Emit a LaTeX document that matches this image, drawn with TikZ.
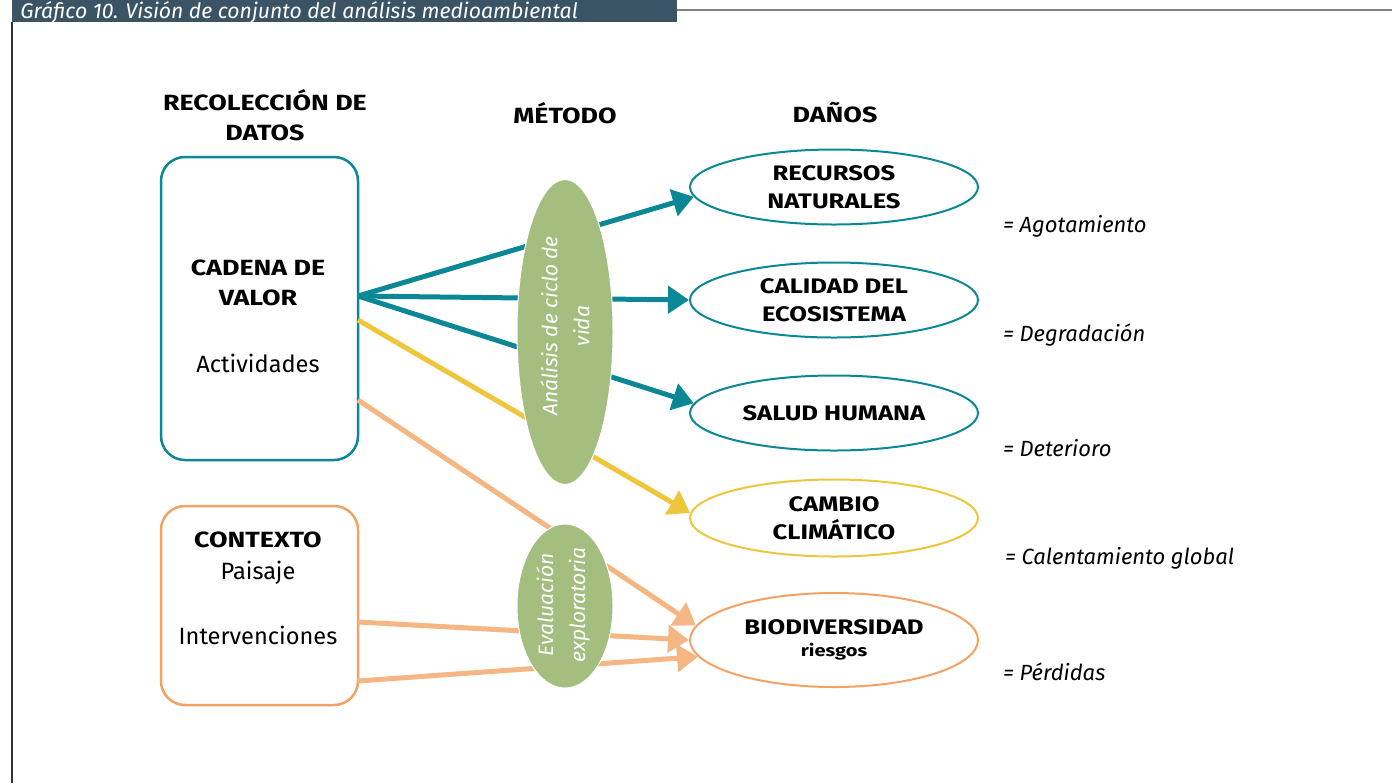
\documentclass[tikz,border=0pt]{standalone}
\usepackage{fontspec}
\setmainfont{Fira Sans}[BoldFeatures={FakeStretch=1.22}]
\usetikzlibrary{shapes.geometric,arrows.meta}

\definecolor{barra}{HTML}{3A5466}
\definecolor{azulv}{HTML}{0B8796}
\definecolor{amarillo}{HTML}{EEC63D}
\definecolor{naranja}{HTML}{F2A264}
\definecolor{melocoton}{HTML}{F5B683}
\definecolor{verdem}{HTML}{A3BE7E}

\newcommand{\cabfont}{\fontsize{11}{15}\selectfont\bfseries}
\newcommand{\txtfont}{\fontsize{11.8}{15}\selectfont}

\begin{document}
\begin{tikzpicture}[x=0.5pt,y=-0.5pt,
    caja/.style={draw,rounded corners=12pt,line width=1.25pt,minimum width=98.5pt,inner sep=0pt},
    dano/.style={ellipse,draw,line width=1pt,minimum width=144pt,minimum height=37.5pt,inner sep=0pt,align=center,font=\fontsize{10.5}{14}\selectfont\bfseries},
    metodo/.style={ellipse,fill=verdem,draw=white,line width=0.5pt,minimum width=48pt,inner sep=0pt},
    metlabel/.style={rotate=90,align=center,text=white,font=\fontsize{10.5}{16}\selectfont\itshape},
    efecto/.style={anchor=west,font=\fontsize{11}{13}\selectfont\itshape},
    flecha/.style={line width=2.5pt,-{Triangle[length=10.5pt,width=13.5pt]}}]
  \useasboundingbox (0,0) rectangle (1392,783);

  % marco
  \fill[barra] (12,0) rectangle (677,22);
  \node[anchor=base west,text=white,font=\fontsize{10.6}{12}\selectfont\itshape,inner sep=0pt] (titulo) at (20,18) {Gráfico 10. Visión de conjunto del análisis medioambiental};
  \draw[gray,line width=0.75pt] (677,10) -- (1392,10);
  \draw[black!80,line width=0.6pt] (12,22) -- (12,783);

  % cabeceras
  \node[align=center,font=\cabfont] (hdatos) at (265,115) {RECOLECCIÓN DE\\DATOS};
  \node[font=\cabfont] (hmetodo) at (565,113) {MÉTODO};
  \node[font=\cabfont] (hdanos) at (835,113) {DAÑOS};

  % recoleccion de datos
  \node[caja,draw=azulv,minimum height=151.5pt] (cadena) at (259.5,308.5) {};
  \node[align=center,font=\cabfont] (cadtxt) at (258,283) {CADENA DE\\VALOR};
  \node[font=\txtfont] (activ) at (258,363) {Actividades};

  \node[caja,draw=naranja,minimum height=99.5pt] (contexto) at (259.5,605.5) {};
  \node[font=\cabfont] (ctxtxt) at (258,540) {CONTEXTO};
  \node[font=\txtfont] (paisaje) at (258,573) {Paisaje};
  \node[font=\txtfont] (interv) at (258,635) {Intervenciones};

  % danos
  \node[dano,draw=azulv] (recursos) at (834,187) {RECURSOS\\NATURALES};
  \node[dano,draw=azulv] (calidad) at (834,300) {CALIDAD DEL\\ECOSISTEMA};
  \node[dano,draw=azulv] (salud) at (834,413) {SALUD HUMANA};
  \node[dano,draw=amarillo,minimum height=38.5pt] (clima) at (834,518) {CAMBIO\\CLIMÁTICO};
  \node[dano,draw=naranja,minimum height=47pt] (biodiv) at (834,640) {BIODIVERSIDAD\\[-3pt]{\fontsize{8.2}{9}\selectfont riesgos}};

  \node[efecto] (e1) at (996,226) {= Agotamiento};
  \node[efecto] (e2) at (996,335) {= Degradación};
  \node[efecto] (e3) at (996,448) {= Deterioro};
  \node[efecto] (e4) at (998,558) {= Calentamiento global};
  \node[efecto] (e5) at (996,672) {= Pérdidas};

  % salidas de las cajas
  \coordinate (cv1) at (358,296);
  \coordinate (cv2) at (358,320);
  \coordinate (cv3) at (358,400);
  \coordinate (cx1) at (358,622);
  \coordinate (cx2) at (358,681);

  \draw[flecha,azulv] (cv1) -- (recursos.184);
  \draw[flecha,azulv] (cv1) -- (calidad.west);
  \draw[flecha,azulv] (cv1) -- (salud.176);
  \draw[flecha,amarillo] (cv2) -- (clima.178);
  \draw[flecha,melocoton] (cv3) -- (biodiv.174);
  \draw[flecha,melocoton] (cx1) -- (biodiv.180);
  \draw[flecha,melocoton] (cx2) -- (biodiv.187);

  % metodos
  \node[metodo,minimum height=152.5pt] (acv) at (565,332) {};
  \node[metlabel] (acvtxt) at (565,326) {Análisis de ciclo de\\vida};
  \node[metodo,minimum height=82pt] (explo) at (565,606) {};
  \node[metlabel] (explotxt) at (563,605) {Evaluación\\exploratoria};
\end{tikzpicture}
\end{document}
